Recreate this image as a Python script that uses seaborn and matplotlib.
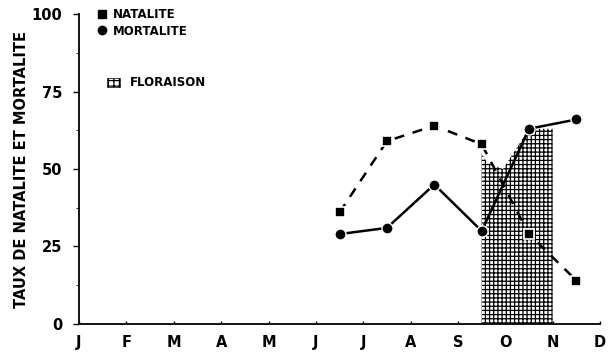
import numpy as np
import pandas as pd
import matplotlib.pyplot as plt
import matplotlib.patches as mpatches
from matplotlib.lines import Line2D
import seaborn as sns

months = ['J', 'F', 'M', 'A', 'M', 'J', 'J', 'A', 'S', 'O', 'N', 'D']
sample_pos = [5.5, 6.5, 7.5, 8.5, 9.5, 10.5]
natalite = [36, 59, 64, 58, 29, 14]
mortalite = [29, 31, 45, 30, 63, 66]
floraison_x = [8.5, 8.62, 8.95, 9.5, 10.0]
floraison_top = [55, 52, 50, 63, 63]

sns.set_style("ticks")
plt.rcParams['font.family'] = ['DejaVu Sans']
plt.rcParams['font.weight'] = 'bold'
plt.rcParams['hatch.linewidth'] = 0.9
for k in ['text.color', 'axes.labelcolor', 'xtick.color', 'ytick.color', 'axes.edgecolor']:
    plt.rcParams[k] = 'black'

df = pd.DataFrame({'pos': sample_pos, 'natalite': natalite, 'mortalite': mortalite})

fig = plt.figure(figsize=(6.08, 3.54), dpi=100)
ax = fig.add_axes([0.13, 0.085, 0.857, 0.875])

# floraison (zone hachuree)
ax.fill_between(floraison_x, 0, floraison_top, facecolor='white', edgecolor='black',
                hatch='++++', linewidth=0, zorder=1)

sns.lineplot(data=df, x='pos', y='natalite', ax=ax, color='black', linewidth=1.8,
             marker='s', markersize=7, markeredgecolor='white', markeredgewidth=1.2,
             zorder=3)
ax.lines[-1].set_linestyle((0, (4, 3.5)))
sns.lineplot(data=df, x='pos', y='mortalite', ax=ax, color='black', linewidth=1.8,
             marker='o', markersize=8, markeredgecolor='white', markeredgewidth=1.0,
             zorder=3)

ax.set_xlim(0, 11)
ax.set_ylim(0, 100)
ax.set_xticks(range(12))
ax.set_xticklabels(months)
ax.set_yticks([0, 25, 50, 75, 100])
ax.set_yticks(np.arange(0, 101, 12.5), minor=True)
ax.tick_params(axis='both', labelsize=10.5, width=1, length=4)
ax.tick_params(axis='y', pad=8)
ax.tick_params(axis='x', pad=8, direction='in', length=2)
for lab in ax.get_xticklabels() + ax.get_yticklabels():
    lab.set_fontweight('bold')
ax.set_xlabel('')
ax.set_ylabel('TAUX DE NATALITE ET MORTALITE', fontsize=10.5, fontweight='bold', labelpad=2)
sns.despine(ax=ax)
for s in ['left', 'bottom']:
    ax.spines[s].set_linewidth(1.3)

h1 = [Line2D([], [], color='black', marker='s', linestyle='none', markersize=6),
      Line2D([], [], color='black', marker='o', linestyle='none', markersize=6)]
leg1 = ax.legend(h1, ['NATALITE', 'MORTALITE'], loc='upper left', bbox_to_anchor=(0.025, 1.035),
                 frameon=False, prop={'size': 8.5, 'weight': 'bold'}, handlelength=0.8,
                 handletextpad=0.6, labelspacing=0.3, borderaxespad=0)
ax.add_artist(leg1)
h2 = [mpatches.Patch(facecolor='white', edgecolor='black', hatch='+++', linewidth=0.5)]
ax.legend(h2, ['FLORAISON'], loc='upper left', bbox_to_anchor=(0.045, 0.815),
          frameon=False, prop={'size': 8.5, 'weight': 'bold'}, handlelength=1.1,
          handleheight=0.8, handletextpad=0.8, borderaxespad=0)

fig.savefig('out.png', dpi=100)
